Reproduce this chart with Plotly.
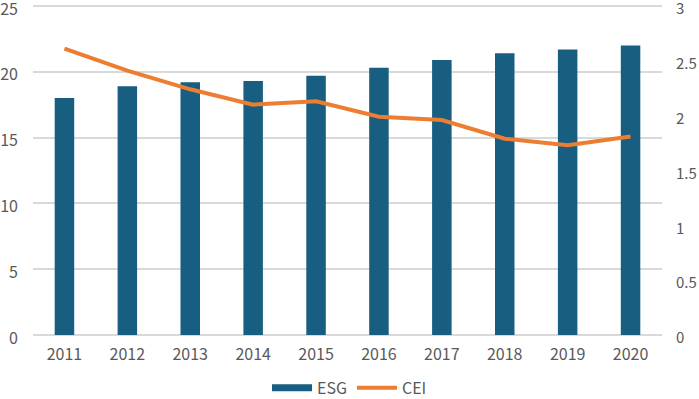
import plotly.graph_objects as go

years = ["2011", "2012", "2013", "2014", "2015", "2016", "2017", "2018", "2019", "2020"]
esg = [18.0, 18.9, 19.2, 19.3, 19.7, 20.3, 20.9, 21.4, 21.7, 22.0]
cei = [2.61, 2.41, 2.24, 2.10, 2.13, 1.99, 1.96, 1.79, 1.73, 1.81]
left_ticks = [0, 5, 10, 15, 20, 25]
right_ticks = [0, 0.5, 1, 1.5, 2, 2.5, 3]

font = "Noto Sans CJK SC"
grey = "#595959"
bar_color = "#175E80"
line_color = "#ED7D31"

fig = go.Figure()
fig.add_trace(go.Bar(x=years, y=esg, name="ESG", marker_color=bar_color,
                     marker_line_width=0, showlegend=False, legendgroup="esg"))
# legend-only entry to draw the wide rectangular key of the bar series
fig.add_trace(go.Scatter(x=[None], y=[None], name="ESG", mode="lines", legendgroup="esg",
                         line=dict(color=bar_color, width=7)))
fig.add_trace(go.Scatter(x=years, y=cei, name="CEI", mode="lines", yaxis="y2",
                         line=dict(color=line_color, width=4)))

fig.update_layout(
    width=699, height=399,
    margin=dict(l=33, r=37, t=2, b=64, autoexpand=False),
    paper_bgcolor="white", plot_bgcolor="white",
    font=dict(family=font, size=16, color=grey),
    bargap=0.69,
    showlegend=True,
    legend=dict(orientation="h", x=0.5, xanchor="center", xref="container",
                y=0.028, yanchor="middle", yref="container",
                font=dict(size=16, color=grey), itemwidth=40, tracegroupgap=0),
    xaxis=dict(showgrid=False, showline=False, ticks="", automargin=False,
               ticklabelstandoff=8, tickfont=dict(size=16, color=grey)),
    yaxis=dict(range=[0, 25.3], tickvals=left_ticks, showgrid=True,
               gridcolor="#D9D9D9", gridwidth=1.5, automargin=False,
               zeroline=True, zerolinecolor="#D9D9D9", zerolinewidth=1.5, ticks="",
               ticklabelstandoff=14, ticklabelshift=3, ticklabeloverflow="allow",
               tickfont=dict(size=16, color=grey)),
    yaxis2=dict(range=[0, 3.036], tickvals=right_ticks, overlaying="y",
                side="right", showgrid=False, automargin=False,
                zeroline=False, ticks="", ticklabelstandoff=13, ticklabelshift=3,
                ticklabeloverflow="allow", tickfont=dict(size=15, color=grey)),
)

fig.write_html(
    "out.html",
    config={"displayModeBar": False},
    post_script="document.body.style.margin='0';document.documentElement.style.overflow='hidden';",
)
